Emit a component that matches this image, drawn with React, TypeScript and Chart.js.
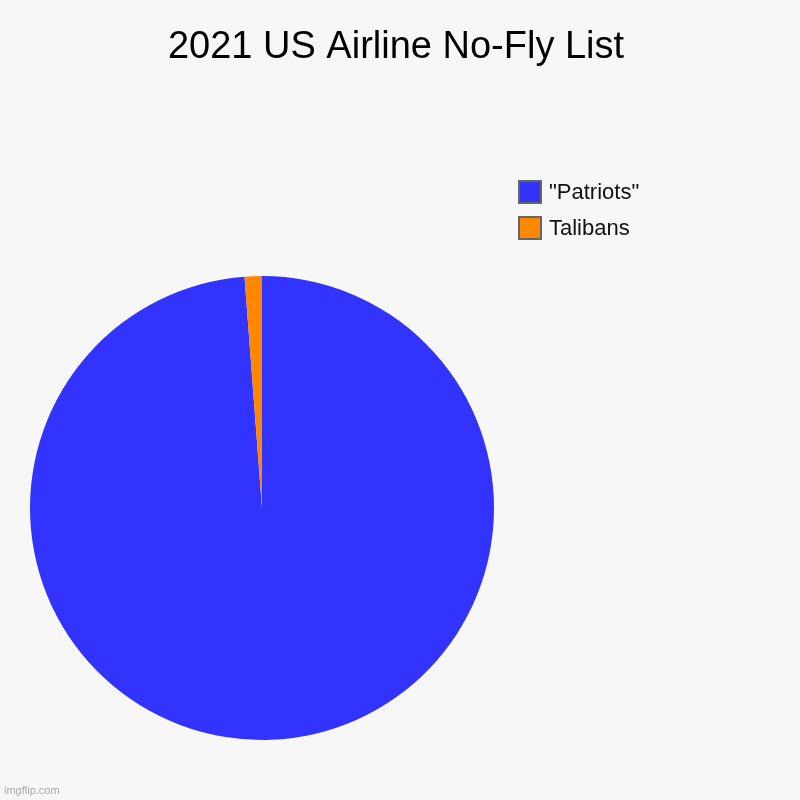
import { useEffect, useRef } from "react";
import { Chart, registerables } from "chart.js";

Chart.register(...registerables);

const chartTitle = "2021 US Airline No-Fly List";
const labels = ['"Patriots"', "Talibans"];
const values = [98.8, 1.2];
const colors = ["#3333ff", "#ff8800"];

const FONT = "'Liberation Sans', Arial, sans-serif";

const App = () => {
  const canvasRef = useRef<HTMLCanvasElement>(null);
  const chartRef = useRef<Chart | null>(null);

  useEffect(() => {
    if (!canvasRef.current) return;
    if (chartRef.current) chartRef.current.destroy();

    // title + legend drawn by hand, like the imgflip layout
    const decorPlugin = {
      id: "decor",
      afterDraw(chart: Chart) {
        const { ctx } = chart;
        ctx.save();
        ctx.fillStyle = "#000";
        ctx.font = `38px ${FONT}`;
        ctx.textAlign = "center";
        ctx.textBaseline = "middle";
        ctx.fillText(chartTitle, 396, 48);

        ctx.font = `22px ${FONT}`;
        ctx.textAlign = "left";
        labels.forEach((lab, i) => {
          const y = 181 + i * 36;
          ctx.fillStyle = colors[i];
          ctx.fillRect(519, y, 22, 22);
          ctx.strokeStyle = "#666";
          ctx.lineWidth = 2;
          ctx.strokeRect(519, y, 22, 22);
          ctx.fillStyle = "#111";
          ctx.fillText(lab, 549, y + 12);
        });

        ctx.font = `11px ${FONT}`;
        ctx.fillStyle = "#aaa";
        ctx.fillText("imgflip.com", 4, 791);
        ctx.restore();
      },
    };

    const bgPlugin = {
      id: "bg",
      beforeDraw(chart: Chart) {
        const { ctx, width, height } = chart;
        ctx.save();
        ctx.fillStyle = "#f7f7f7";
        ctx.fillRect(0, 0, width, height);
        ctx.restore();
      },
    };

    chartRef.current = new Chart(canvasRef.current, {
      type: "pie",
      data: {
        labels,
        datasets: [
          {
            data: values,
            backgroundColor: colors,
            borderWidth: 0,
          },
        ],
      },
      options: {
        animation: false,
        responsive: false,
        layout: {
          padding: { left: 30, right: 306, top: 276, bottom: 60 },
        },
        plugins: {
          legend: { display: false },
          title: { display: false },
          tooltip: { enabled: false },
        },
      },
      plugins: [bgPlugin, decorPlugin],
    });

    return () => {
      if (chartRef.current) {
        chartRef.current.destroy();
        chartRef.current = null;
      }
    };
  }, []);

  return (
    <div style={{ position: "fixed", left: 0, top: 0, width: 800, height: 800 }}>
      <canvas ref={canvasRef} width={800} height={800} style={{ width: 800, height: 800 }} />
    </div>
  );
};

export default App;
